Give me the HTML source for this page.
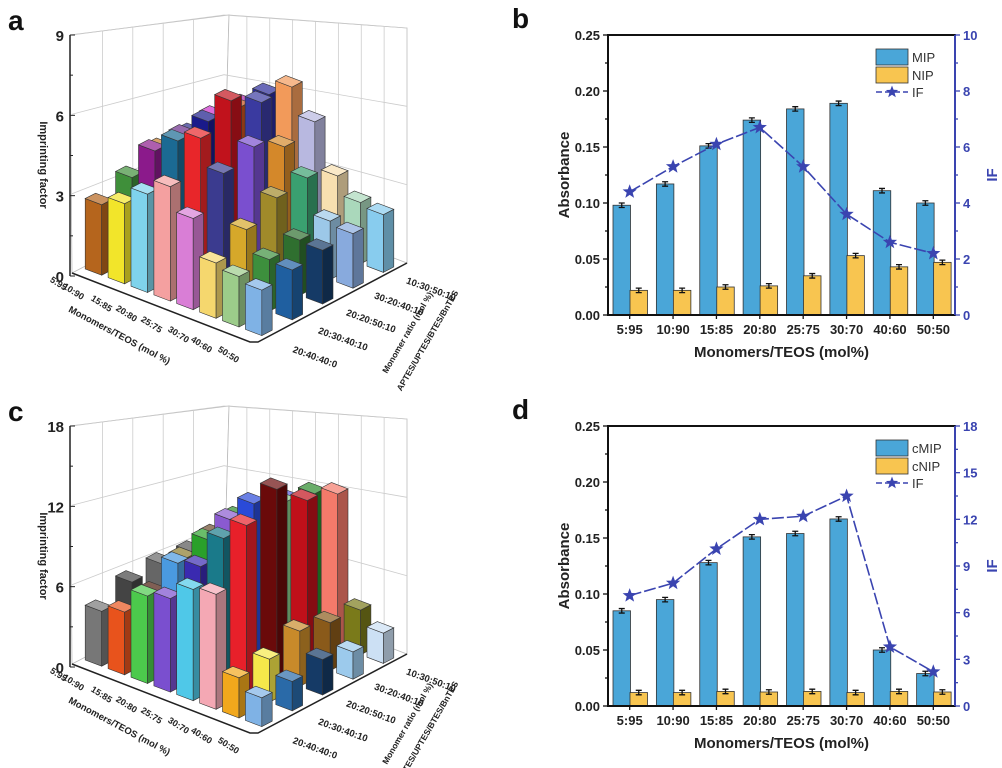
<!DOCTYPE html>
<html><head><meta charset="utf-8">
<style>
html,body{margin:0;padding:0;background:#fff;}
svg{display:block;font-family:"Liberation Sans",Arial,sans-serif;}
</style></head>
<body>
<svg id="s" width="1002" height="768" viewBox="0 0 1002 768" xmlns="http://www.w3.org/2000/svg"></svg>
<script>
var out=[];
function P(a){return a.map(function(p){return p[0].toFixed(1)+','+p[1].toFixed(1)}).join(' ');}
function shade(hex,f){
  hex=hex.replace('#','');if(hex.length==3)hex=hex.split('').map(function(c){return c+c}).join('');
  var r=parseInt(hex.substr(0,2),16),g=parseInt(hex.substr(2,2),16),b=parseInt(hex.substr(4,2),16);
  function m(c){return Math.max(0,Math.min(255,Math.round(f>1?c+(255-c)*(f-1):c*f)));}
  return 'rgb('+m(r)+','+m(g)+','+m(b)+')';
}
function panel3d(oy,vmax,vals,cols,ticks){
  var L=[72,273+oy],F=[255,342+oy],R=[407,263+oy],B=[224,194+oy];
  var hL=238/vmax,hF=280/vmax,hB=179/vmax,hR=235/vmax;
  function pt(s,t){return [L[0]+s*(F[0]-L[0])+t*(B[0]-L[0]),L[1]+s*(F[1]-L[1])+t*(B[1]-L[1])];}
  function hs(s,t){return (1-s)*(1-t)*hL+s*(1-t)*hF+(1-s)*t*hB+s*t*hR;}
  var Lt=[70,35+oy],Bt=[229,15+oy],Rt=[407,28+oy];
  out.push('<polygon points="'+P([L,B,Bt,Lt])+'" fill="#fff" stroke="#bbb" stroke-width="0.8"/>');
  out.push('<polygon points="'+P([B,R,Rt,Bt])+'" fill="#fff" stroke="#bbb" stroke-width="0.8"/>');
  for(var k=1;k<5;k++){var t=k/5;var p=pt(0,t),h=hs(0,t)*vmax;out.push('<line x1="'+p[0]+'" y1="'+p[1]+'" x2="'+p[0]+'" y2="'+(p[1]-h)+'" stroke="#ccc" stroke-width="0.8"/>');}
  for(var k=1;k<8;k++){var s=k/8;var p=pt(s,1),h=hs(s,1)*vmax;out.push('<line x1="'+p[0]+'" y1="'+p[1]+'" x2="'+p[0]+'" y2="'+(p[1]-h)+'" stroke="#ccc" stroke-width="0.8"/>');}
  for(var k=1;k<=3;k++){var v=vmax*k/3;
    out.push('<polyline points="'+P([[L[0],L[1]-v*hL],[B[0],B[1]-v*hB],[R[0],R[1]-v*hR]])+'" fill="none" stroke="#ccc" stroke-width="0.8"/>');}
  var bars=[];
  for(var j=0;j<5;j++)for(var i=0;i<8;i++){var s=(i+.5)/8,t=(j+.5)/5;bars.push({i:i,j:j,s:s,t:t,y:pt(s,t)[1]});}
  bars.sort(function(a,b){return a.y-b.y});
  var ds=0.36/8,dt=0.17/5;
  bars.forEach(function(b){
    var v=vals[b.j][b.i],c=cols[b.j][b.i],h=v*hs(b.s,b.t);
    var a1=pt(b.s-ds,b.t-dt),a2=pt(b.s+ds,b.t-dt),a3=pt(b.s+ds,b.t+dt),a4=pt(b.s-ds,b.t+dt);
    function up(p){return [p[0],p[1]-h];}
    out.push('<polygon points="'+P([a1,a2,up(a2),up(a1)])+'" fill="'+c+'" stroke="#333" stroke-width="0.6"/>');
    out.push('<polygon points="'+P([a2,a3,up(a3),up(a2)])+'" fill="'+shade(c,0.7)+'" stroke="#333" stroke-width="0.6"/>');
    out.push('<polygon points="'+P([up(a1),up(a2),up(a3),up(a4)])+'" fill="'+shade(c,1.3)+'" stroke="#333" stroke-width="0.6"/>');
  });
  out.push('<line x1="70" y1="'+(35+oy)+'" x2="70" y2="'+(276+oy)+'" stroke="#222" stroke-width="1.5"/>');
  for(var k=0;k<=6;k++){var y=276+oy-k*(241/6);out.push('<line x1="70" y1="'+y+'" x2="'+(k%2==0?75:73)+'" y2="'+y+'" stroke="#222" stroke-width="1"/>');}
  ticks.forEach(function(tk,k){var y=276+oy-k*(241/3);out.push('<text x="64" y="'+(y+6)+'" font-size="15" font-weight="bold" text-anchor="end" fill="#222">'+tk+'</text>');});
  out.push('<polyline points="'+P([[72,273+oy],[250,342+oy],[258,342+oy],[407,263+oy]])+'" fill="none" stroke="#222" stroke-width="1.5"/>');
  out.push('<text transform="translate(40,'+(165+oy)+') rotate(90)" font-size="11" font-weight="bold" text-anchor="middle" fill="#222">Imprinting factor</text>');
  var ml=['5:95','10:90','15:85','20:80','25:75','30:70','40:60','50:50'];
  var mp=[[57,286],[72,294],[100,306],[125,316],[150,327],[177,337],[200,347],[227,357]];
  ml.forEach(function(t,k){out.push('<text transform="translate('+mp[k][0]+','+(mp[k][1]+oy)+') rotate(32)" font-size="9" font-weight="bold" text-anchor="middle" fill="#222">'+t+'</text>');});
  out.push('<text transform="translate(118,'+(338+oy)+') rotate(28)" font-size="9.5" font-weight="bold" text-anchor="middle" fill="#222">Monomers/TEOS (mol %)</text>');
  var rl=['20:40:40:0','20:30:40:10','20:20:50:10','30:20:40:10','10:30:50:10'];
  var rp=[[314,360],[342,342],[370,324],[398,307],[430,292]];
  rl.forEach(function(t,k){out.push('<text transform="translate('+rp[k][0]+','+(rp[k][1]+oy)+') rotate(20)" font-size="9.5" font-weight="bold" text-anchor="middle" fill="#222">'+t+'</text>');});
  out.push('<text transform="translate(410,'+(334+oy)+') rotate(-60)" font-size="8.5" font-weight="bold" text-anchor="middle" fill="#222">Monomer ratio (mol %)</text>');
  out.push('<text transform="translate(430,'+(342+oy)+') rotate(-60)" font-size="8.5" font-weight="bold" text-anchor="middle" fill="#222">APTES/UPTES/BTES/BnTES</text>');
}
function star(cx,cy,r){var p=[];for(var k=0;k<10;k++){var a=-Math.PI/2+k*Math.PI/5,rr=k%2?r*0.42:r;p.push([cx+rr*Math.cos(a),cy+rr*Math.sin(a)]);}return '<polygon points="'+P(p)+'" fill="#3a44b0"/>';}
function panel2d(top,bot,mip,nip,ifs,ifmax,ifticks,names){
  var x0=608,x1=955,w=(x1-x0)/8,sc=(bot-top)/0.25,blue='#3a44b0';
  function Y(v){return bot-v*sc;}
  for(var i=0;i<8;i++){
    var xa=x0+i*w+5,xb=x0+i*w+22;
    out.push('<rect x="'+xa+'" y="'+Y(mip[i])+'" width="17.5" height="'+(mip[i]*sc)+'" fill="#4aa6d8" stroke="#333" stroke-width="0.8"/>');
    out.push('<rect x="'+xb+'" y="'+Y(nip[i])+'" width="17.5" height="'+(nip[i]*sc)+'" fill="#f8c550" stroke="#333" stroke-width="0.8"/>');
    [[xa+8.75,mip[i]],[xb+8.75,nip[i]]].forEach(function(q){var y1=Y(q[1]+0.002),y2=Y(q[1]-0.002);
      out.push('<path d="M'+q[0]+' '+y1+'V'+y2+'M'+(q[0]-3)+' '+y1+'h6M'+(q[0]-3)+' '+y2+'h6" stroke="#111" stroke-width="1.3" fill="none"/>');});
  }
  var pts=[];for(var i=0;i<8;i++)pts.push([x0+i*w+w/2,bot-ifs[i]/ifmax*(bot-top)]);
  out.push('<polyline points="'+P(pts)+'" fill="none" stroke="'+blue+'" stroke-width="1.6" stroke-dasharray="12,3"/>');
  pts.forEach(function(p){out.push(star(p[0],p[1],7.5));});
  out.push('<rect x="'+x0+'" y="'+top+'" width="'+(x1-x0)+'" height="'+(bot-top)+'" fill="none" stroke="#111" stroke-width="2"/>');
  out.push('<line x1="'+x1+'" y1="'+top+'" x2="'+x1+'" y2="'+bot+'" stroke="'+blue+'" stroke-width="2"/>');
  for(var k=0;k<=10;k++){var y=bot-k*(bot-top)/10;out.push('<line x1="'+(x0-(k%2?3:5))+'" y1="'+y+'" x2="'+x0+'" y2="'+y+'" stroke="#111" stroke-width="1.3"/>');
    if(k%2==0)out.push('<text x="'+(x0-8)+'" y="'+(y+5)+'" font-size="13" font-weight="bold" text-anchor="end" fill="#222">'+(k*0.025).toFixed(2)+'</text>');}
  var n=ifticks.length-1;
  for(var k=0;k<=2*n;k++){var y=bot-k*(bot-top)/(2*n);out.push('<line x1="'+x1+'" y1="'+y+'" x2="'+(x1+(k%2?3:5))+'" y2="'+y+'" stroke="'+blue+'" stroke-width="1.3"/>');
    if(k%2==0)out.push('<text x="'+(x1+8)+'" y="'+(y+5)+'" font-size="13" font-weight="bold" fill="'+blue+'">'+ifticks[k/2]+'</text>');}
  var lab=['5:95','10:90','15:85','20:80','25:75','30:70','40:60','50:50'];
  for(var i=0;i<8;i++){var cx=x0+i*w+w/2;out.push('<line x1="'+cx+'" y1="'+bot+'" x2="'+cx+'" y2="'+(bot+4)+'" stroke="#111" stroke-width="1.3"/>');
    out.push('<text x="'+cx+'" y="'+(bot+19)+'" font-size="13" font-weight="bold" text-anchor="middle" fill="#222">'+lab[i]+'</text>');}
  out.push('<text x="'+((x0+x1)/2)+'" y="'+(bot+42)+'" font-size="15" font-weight="bold" text-anchor="middle" fill="#222">Monomers/TEOS (mol%)</text>');
  out.push('<text transform="translate(569,'+((top+bot)/2)+') rotate(-90)" font-size="15" font-weight="bold" text-anchor="middle" fill="#222">Absorbance</text>');
  out.push('<text transform="translate(997,'+((top+bot)/2)+') rotate(-90)" font-size="15" font-weight="bold" text-anchor="middle" fill="'+blue+'">IF</text>');
  var lx=876,ly=top+14;
  out.push('<rect x="'+lx+'" y="'+ly+'" width="32" height="16" fill="#4aa6d8" stroke="#333" stroke-width="0.8"/>');
  out.push('<rect x="'+lx+'" y="'+(ly+18)+'" width="32" height="16" fill="#f8c550" stroke="#333" stroke-width="0.8"/>');
  out.push('<line x1="'+lx+'" y1="'+(ly+43)+'" x2="'+(lx+32)+'" y2="'+(ly+43)+'" stroke="'+blue+'" stroke-width="1.5" stroke-dasharray="6,3"/>');
  out.push(star(lx+16,ly+43,6.5));
  out.push('<text x="'+(lx+36)+'" y="'+(ly+13)+'" font-size="13" fill="#333">'+names[0]+'</text>');
  out.push('<text x="'+(lx+36)+'" y="'+(ly+31)+'" font-size="13" fill="#333">'+names[1]+'</text>');
  out.push('<text x="'+(lx+36)+'" y="'+(ly+48)+'" font-size="13" fill="#333">IF</text>');
}
panel3d(0,9,[
 [2.7,3.0,3.6,4.1,3.2,1.9,1.7,1.5],
 [3.3,4.6,5.2,5.5,4.4,2.6,1.8,1.7],
 [4.0,4.8,5.6,6.6,5.0,3.3,2.0,1.9],
 [4.2,5.2,5.8,6.2,4.6,3.6,2.2,2.0],
 [4.5,5.3,6.0,6.5,5.2,3.2,2.4,2.2]],[
 ['#b5651d','#f2e52a','#7fd3ec','#f4a0a0','#d97ed6','#f5d76e','#9ccc8a','#7fb2e5'],
 ['#3f8f3a','#8b1a8b','#1b6a93','#e8262a','#3b3b8f','#d6a82a','#3d8f3d','#1f5fa0'],
 ['#c47a2a','#6a2a8a','#1a1a8a','#c1121c','#7a4fcf','#a08a2a','#2f6f2f','#153a66'],
 ['#2a2a8a','#cc2fcc','#c8521a','#3a3aa0','#d4882a','#3aa070','#9cc8e8','#88aadd'],
 ['#5a2a7a','#aa22aa','#2a2a9a','#f29a5a','#b8b8e0','#f8e0b0','#aad8bb','#88ccee']],['0','3','6','9']);
panel3d(391,18,[
 [4.2,4.7,6.4,6.7,7.8,7.9,2.7,1.9],
 [5.5,5.2,8.0,8.2,10.7,12.0,3.0,2.0],
 [6,7,9,11,12.6,14.0,4.0,2.5],
 [6,8,10,11,12,12.5,3.6,2.0],
 [6,8,10,11,12,12.3,3.5,2.3]],[
 ['#777777','#e8531c','#4cc94c','#7a4fcf','#4fc8e8','#f4a8b4','#f2a81c','#7fb2e5'],
 ['#444444','#4a1a0a','#4a9ae0','#3a2ab0','#1a7a8a','#e8202a','#f5e84a','#2a6aa8'],
 ['#666666','#8a7a2a','#2aa02a','#8a5ad0','#2a4ad8','#6a0a0a','#c88a2a','#153a66'],
 ['#555555','#6a4a2a','#2a8a2a','#2a2ad0','#88c888','#c0101a','#8a5a1a','#9ccaec'],
 ['#888888','#aa8a3a','#3ab03a','#5a5ae0','#2a8a2a','#f47a6a','#7a7a1a','#cce0f4']],['0','6','12','18']);
panel2d(35,315,[.098,.117,.151,.174,.184,.189,.111,.100],[.022,.022,.025,.026,.035,.053,.043,.047],[4.4,5.3,6.1,6.7,5.3,3.6,2.6,2.2],10,['0','2','4','6','8','10'],['MIP','NIP']);
panel2d(426,706,[.085,.095,.128,.151,.154,.167,.050,.029],[.012,.012,.013,.0125,.013,.012,.013,.0125],[7.1,7.9,10.1,12.0,12.2,13.5,3.8,2.2],18,['0','3','6','9','12','15','18'],['cMIP','cNIP']);
out.push('<text x="8" y="30" font-size="28" font-weight="bold" fill="#111">a</text>');
out.push('<text x="512" y="28" font-size="28" font-weight="bold" fill="#111">b</text>');
out.push('<text x="8" y="421" font-size="28" font-weight="bold" fill="#111">c</text>');
out.push('<text x="512" y="419" font-size="28" font-weight="bold" fill="#111">d</text>');
document.getElementById('s').innerHTML=out.join('');
</script>
</body></html>
